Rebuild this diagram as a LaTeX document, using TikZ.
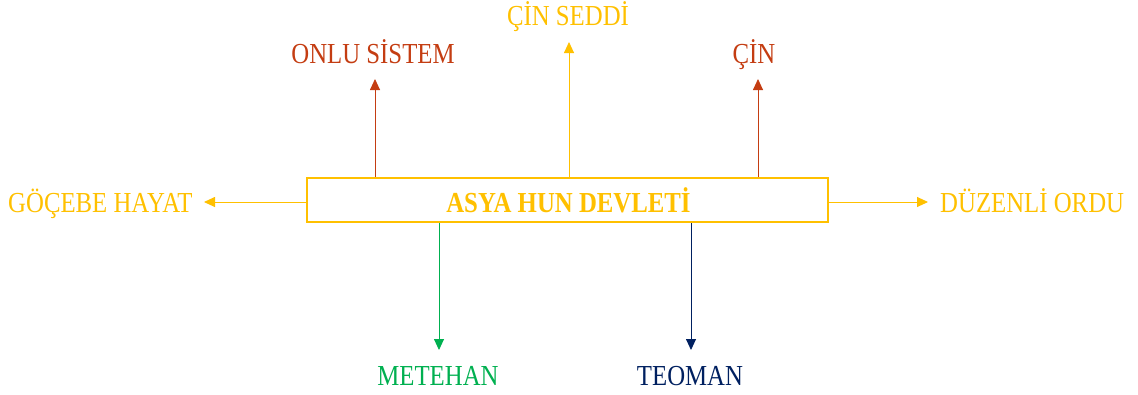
\documentclass[tikz,border=0pt]{standalone}
\usepackage{fontspec}
\setmainfont{Liberation Serif}[FakeStretch=0.855]
\usetikzlibrary{arrows.meta}
\definecolor{cgold}{HTML}{FFC000}
\definecolor{cred}{HTML}{C43D12}
\definecolor{cgreen}{HTML}{00B050}
\definecolor{cnavy}{HTML}{002060}
\begin{document}
\begin{tikzpicture}[x=1pt,y=-1pt,
  lbl/.style={anchor=base,inner sep=0pt,font=\fontsize{29}{30}\selectfont},
  conn/.style={line width=0.9pt,-{Triangle[length=11pt,width=10pt]}}]
\useasboundingbox (0,0) rectangle (1138,394);
% main box
\node[draw=cgold,line width=2pt,minimum width=521pt,minimum height=44pt,inner sep=0pt,anchor=center] (box) at (567.5,200) {};
\node[lbl,text=cgold,font=\fontsize{29}{30}\selectfont\bfseries] (title) at (568.5,212) {ASYA HUN DEVLETİ};
% labels
\node[lbl,text=cgold,anchor=base west] (goc) at (8,212) {GÖÇEBE HAYAT};
\node[lbl,text=cgold,anchor=base west] (duz) at (940,212) {DÜZENLİ ORDU};
\node[lbl,text=cred] (onlu) at (373,63) {ONLU SİSTEM};
\node[lbl,text=cgold] (seddi) at (568,25) {ÇİN SEDDİ};
\node[lbl,text=cred] (cin) at (754,63) {ÇİN};
\node[lbl,text=cgreen] (mete) at (438,385) {METEHAN};
\node[lbl,text=cnavy] (teo) at (690,385) {TEOMAN};
% arrow tips
\coordinate (tgoc) at (204,202);
\coordinate (tduz) at (928,202);
\coordinate (tonlu) at (375,79);
\coordinate (tseddi) at (569,42);
\coordinate (tcin) at (758,79);
\coordinate (tmete) at (439,350);
\coordinate (tteo) at (691,350);
% connectors
\draw[conn,cgold] (box.west |- tgoc) -- (tgoc);
\draw[conn,cgold] (box.east |- tduz) -- (tduz);
\draw[conn,cred] (box.north -| tonlu) -- (tonlu);
\draw[conn,cgold] (box.north -| tseddi) -- (tseddi);
\draw[conn,cred] (box.north -| tcin) -- (tcin);
\draw[conn,cgreen] (box.south -| tmete) -- (tmete);
\draw[conn,cnavy] (box.south -| tteo) -- (tteo);
\end{tikzpicture}
\end{document}
